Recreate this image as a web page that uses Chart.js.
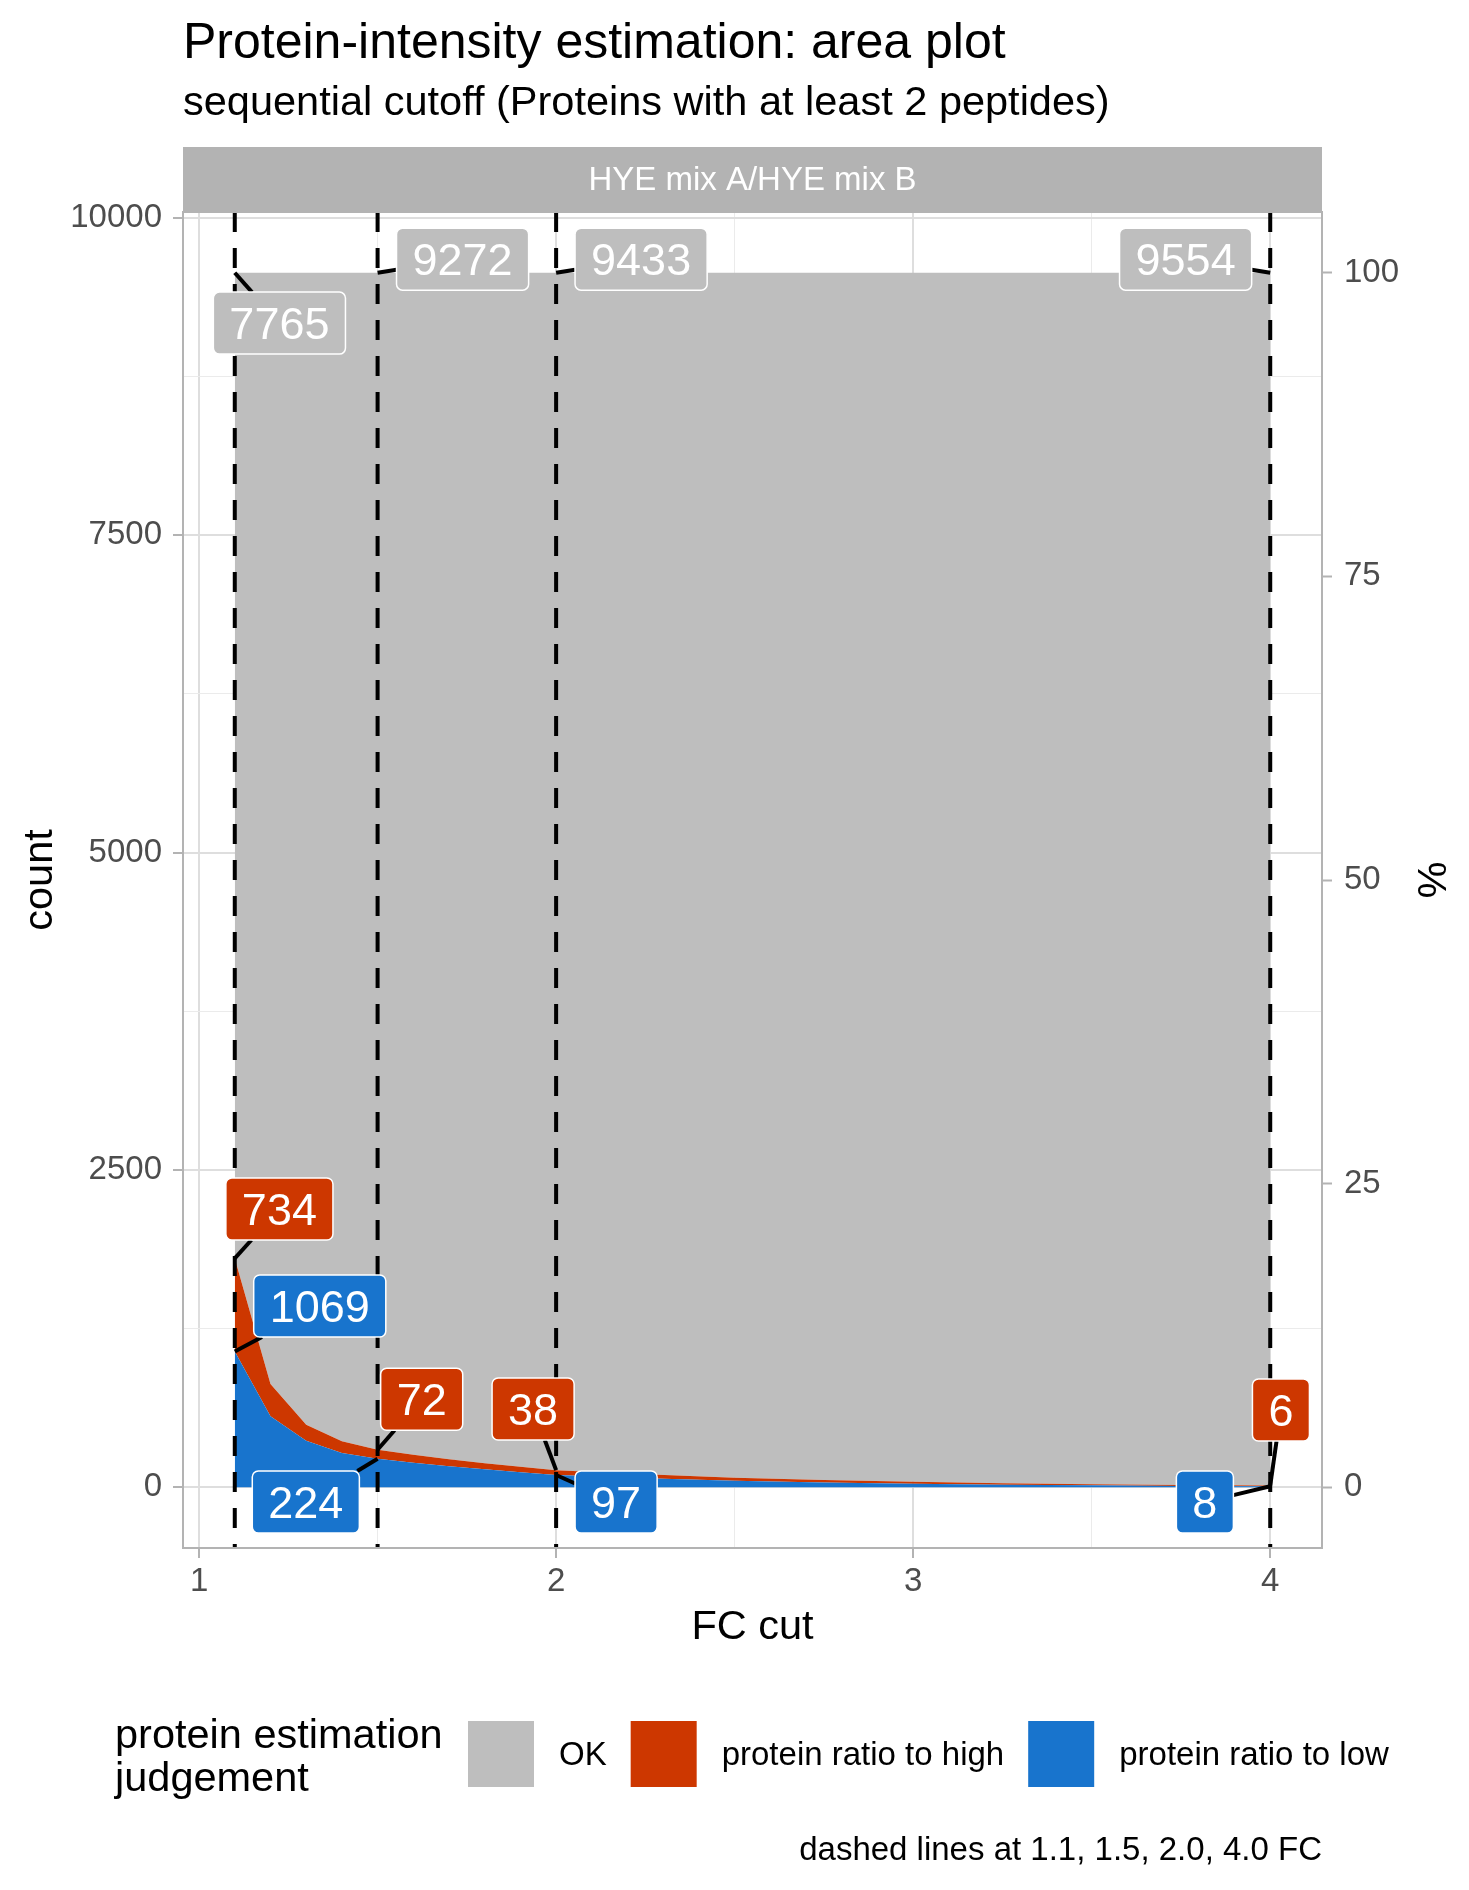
<!DOCTYPE html>
<html>
<head>
<meta charset="utf-8">
<title>Protein-intensity estimation: area plot</title>
<script src="https://cdn.jsdelivr.net/npm/chart.js@4.4.1/dist/chart.umd.min.js"></script>
<style>
  html, body { margin: 0; padding: 0; background: #ffffff; }
  canvas { display: block; }
</style>
</head>
<body>
<canvas id="areaChart" width="1469" height="1890"></canvas>
<script>
// FC cut values and counts per judgement
const fcCut = [1.1, 1.2, 1.3, 1.4, 1.5, 1.6, 1.7, 1.8, 1.9, 2.0, 2.25, 2.5, 2.75, 3.0, 3.25, 3.5, 3.75, 4.0];
const countOK = [7765, 8754, 9075, 9206, 9272, 9312, 9348, 9378, 9407, 9433, 9466, 9492, 9511, 9525, 9536, 9544, 9550, 9554];
const countHigh = [734, 255, 126, 92, 72, 62, 55, 48, 43, 38, 30, 24, 19, 15, 12, 9, 7, 6];
const countLow = [1069, 559, 367, 270, 224, 194, 165, 142, 118, 97, 72, 52, 38, 28, 20, 15, 11, 8];

const seriesNames = ["OK", "protein ratio to high", "protein ratio to low"];
const cutoffs = [1.1, 1.5, 2.0, 4.0];

const fcTicks = [1, 2, 3, 4];
const fcMinor = [1.5, 2.5, 3.5];
const countTicks = [0, 2500, 5000, 7500, 10000];
const countMinor = [1250, 3750, 6250, 8750];
const percentTicks = [0, 25, 50, 75, 100];

// where the repelled labels ended up (data units, one per cutoff)
const labelPosOK = [[1.225, 9171], [1.738, 9675], [2.238, 9675], [3.763, 9675]];
const labelPosHigh = [[1.225, 2192], [1.6235, 693], [1.9355, 617], [4.030, 609]];
const labelPosLow = [[1.338, 1428], [1.299, -116], [2.168, -116], [3.817, -116]];

const FONT = '"Liberation Sans", Arial, Helvetica, sans-serif';
const colOK = "#BEBEBE", colHigh = "#CD3700", colLow = "#1874CD";
const tickCol = "#4D4D4D", frameCol = "#B3B3B3";

// ggplot-like 5% expansion of the data range
const total = countOK[0] + countHigh[0] + countLow[0];
const xMin = fcCut[0] - 0.05 * (fcCut[fcCut.length - 1] - fcCut[0]);
const xMax = fcCut[fcCut.length - 1] + 0.05 * (fcCut[fcCut.length - 1] - fcCut[0]);
const yMin = -0.05 * total, yMax = 1.05 * total;

const pts = arr => fcCut.map((x, i) => ({ x: x, y: arr[i] }));

function gridStyle(majors) {
  return {
    color: c => majors.includes(c.tick.value) ? "#DEDEDE" : "#EBEBEB",
    lineWidth: c => majors.includes(c.tick.value) ? 2 : 1,
    tickColor: c => majors.includes(c.tick.value) ? frameCol : "rgba(0,0,0,0)",
    tickWidth: 2,
    tickLength: 10
  };
}

function drawLabel(ctx, text, cx, cy, px, py, fill) {
  ctx.font = "45px " + FONT;
  const w = ctx.measureText(text).width + 32, h = 62;
  // segment from the point to the box edge
  const dx = px - cx, dy = py - cy;
  const s = Math.min(dx !== 0 ? (w / 2) / Math.abs(dx) : Infinity, dy !== 0 ? (h / 2) / Math.abs(dy) : Infinity);
  if (s < 1) {
    ctx.beginPath();
    ctx.moveTo(px, py);
    ctx.lineTo(cx + dx * s, cy + dy * s);
    ctx.strokeStyle = "#000";
    ctx.lineWidth = 4;
    ctx.setLineDash([]);
    ctx.stroke();
  }
  ctx.beginPath();
  ctx.roundRect(cx - w / 2, cy - h / 2, w, h, 6);
  ctx.fillStyle = fill;
  ctx.fill();
  ctx.strokeStyle = "#fff";
  ctx.lineWidth = 1.5;
  ctx.stroke();
  ctx.fillStyle = "#fff";
  ctx.textAlign = "center";
  ctx.textBaseline = "alphabetic";
  ctx.fillText(text, cx, cy + 16);
}

const overlay = {
  id: "overlay",
  afterDatasetsDraw(chart) {
    const ctx = chart.ctx, xs = chart.scales.x, ys = chart.scales.y, a = chart.chartArea;
    ctx.save();
    // dashed cut lines
    ctx.strokeStyle = "#000";
    ctx.lineWidth = 4;
    ctx.setLineDash([20, 16]);
    cutoffs.forEach(c => {
      const x = xs.getPixelForValue(c);
      ctx.beginPath();
      ctx.moveTo(x, a.top);
      ctx.lineTo(x, a.bottom);
      ctx.stroke();
    });
    ctx.setLineDash([]);
    // labels with segments
    cutoffs.forEach((c, k) => {
      const i = fcCut.indexOf(c);
      const px = xs.getPixelForValue(c);
      const stacks = [
        [countOK[i], countLow[i] + countHigh[i] + countOK[i], labelPosOK[k], colOK],
        [countHigh[i], countLow[i] + countHigh[i], labelPosHigh[k], colHigh],
        [countLow[i], countLow[i], labelPosLow[k], colLow]
      ];
      stacks.forEach(([val, top, pos, fill]) => {
        drawLabel(ctx, String(val), xs.getPixelForValue(pos[0]), ys.getPixelForValue(pos[1]),
          px, ys.getPixelForValue(top), fill);
      });
    });
    // panel border
    ctx.strokeStyle = frameCol;
    ctx.lineWidth = 2;
    ctx.strokeRect(a.left, a.top, a.right - a.left, a.bottom - a.top);
    ctx.restore();
  },
  afterDraw(chart) {
    const ctx = chart.ctx, a = chart.chartArea;
    const midX = (a.left + a.right) / 2, midY = (a.top + a.bottom) / 2;
    ctx.save();
    // titles
    ctx.fillStyle = "#000";
    ctx.textAlign = "left";
    ctx.textBaseline = "alphabetic";
    ctx.font = "50px " + FONT;
    ctx.fillText("Protein-intensity estimation: area plot", a.left, 58);
    ctx.font = "41.5px " + FONT;
    ctx.fillText("sequential cutoff (Proteins with at least 2 peptides)", a.left, 115);
    // facet strip
    ctx.fillStyle = frameCol;
    ctx.fillRect(a.left, 147, a.right - a.left, a.top - 147);
    ctx.fillStyle = "#fff";
    ctx.font = "33px " + FONT;
    ctx.textAlign = "center";
    ctx.textBaseline = "middle";
    ctx.fillText("HYE mix A/HYE mix B", midX, (147 + a.top) / 2 + 1);
    // axis titles
    ctx.fillStyle = "#000";
    ctx.font = "41.5px " + FONT;
    ctx.textBaseline = "alphabetic";
    ctx.fillText("FC cut", midX, 1639);
    ctx.save();
    ctx.translate(52, midY);
    ctx.rotate(-Math.PI / 2);
    ctx.fillText("count", 0, 0);
    ctx.restore();
    ctx.save();
    ctx.translate(1418, midY);
    ctx.rotate(Math.PI / 2);
    ctx.fillText("%", 0, 0);
    ctx.restore();
    // legend
    ctx.textAlign = "left";
    ctx.fillText("protein estimation", 115, 1748);
    ctx.fillText("judgement", 115, 1791);
    const keyCols = [colOK, colHigh, colLow];
    let x = 468;
    ctx.font = "33px " + FONT;
    ctx.textBaseline = "middle";
    seriesNames.forEach((name, i) => {
      ctx.fillStyle = keyCols[i];
      ctx.fillRect(x, 1721, 66, 66);
      ctx.fillStyle = "#000";
      ctx.fillText(name, x + 91, 1756);
      x += 91 + ctx.measureText(name).width + 24;
    });
    // caption
    ctx.textAlign = "right";
    ctx.textBaseline = "alphabetic";
    ctx.fillText("dashed lines at 1.1, 1.5, 2.0, 4.0 FC", a.right, 1860);
    ctx.restore();
  }
};

const area = (label, arr, col, fill) => ({
  label: label,
  data: pts(arr),
  backgroundColor: col,
  borderColor: "rgba(0,0,0,0)",
  borderWidth: 0,
  pointRadius: 0,
  tension: 0,
  fill: fill
});

new Chart(document.getElementById("areaChart").getContext("2d"), {
  type: "line",
  data: {
    datasets: [
      area(seriesNames[2], countLow, colLow, "origin"),
      area(seriesNames[1], countHigh, colHigh, "-1"),
      area(seriesNames[0], countOK, colOK, "-1")
    ]
  },
  options: {
    responsive: false,
    animation: false,
    devicePixelRatio: 1,
    layout: { padding: { top: 212, left: 0, right: 0, bottom: 0 } },
    plugins: { legend: { display: false }, tooltip: { enabled: false } },
    scales: {
      x: {
        type: "linear",
        min: xMin,
        max: xMax,
        afterBuildTicks: s => { s.ticks = fcTicks.concat(fcMinor).sort((p, q) => p - q).map(v => ({ value: v })); },
        afterFit: s => { s.height = 342; },
        ticks: {
          autoSkip: false, maxRotation: 0, padding: 4,
          color: tickCol, font: { family: FONT, size: 33 },
          callback: v => fcTicks.includes(v) ? String(v) : ""
        },
        grid: gridStyle(fcTicks),
        border: { display: false }
      },
      y: {
        type: "linear",
        stacked: true,
        position: "left",
        min: yMin,
        max: yMax,
        afterBuildTicks: s => { s.ticks = countTicks.concat(countMinor).sort((p, q) => p - q).map(v => ({ value: v })); },
        afterFit: s => { s.width = 183; },
        ticks: {
          autoSkip: false, padding: 11,
          color: tickCol, font: { family: FONT, size: 33 },
          callback: v => countTicks.includes(v) ? String(v) : ""
        },
        grid: gridStyle(countTicks),
        border: { display: false }
      },
      y2: {
        type: "linear",
        position: "right",
        min: yMin / total * 100,
        max: yMax / total * 100,
        afterBuildTicks: s => { s.ticks = percentTicks.map(v => ({ value: v })); },
        afterFit: s => { s.width = 147; },
        ticks: {
          autoSkip: false, padding: 12,
          color: tickCol, font: { family: FONT, size: 33 },
          callback: v => String(v)
        },
        grid: { drawOnChartArea: false, color: frameCol, tickColor: frameCol, tickWidth: 2, tickLength: 10 },
        border: { display: false }
      }
    }
  },
  plugins: [overlay]
});
</script>
</body>
</html>
